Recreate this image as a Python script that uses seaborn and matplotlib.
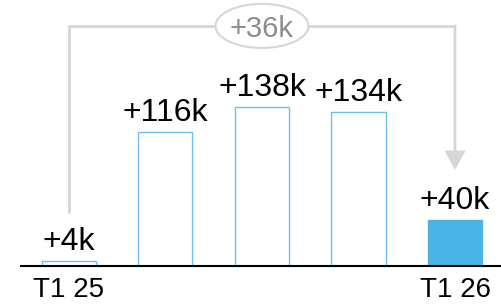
import numpy as np
import pandas as pd
import seaborn as sns
import matplotlib.pyplot as plt
from matplotlib.patches import Ellipse

# data
periods = ["T1 25", "P2", "P3", "P4", "T1 26"]
tick_labels = ["T1 25", "", "", "", "T1 26"]
values = [4, 116, 138, 134, 40]
value_labels = ["+4k", "+116k", "+138k", "+134k", "+40k"]
delta_label = "+36k"

edge_blue = "#6cc0ea"
fill_blue = "#4bb4e6"
grey_line = "#d6d6d6"

sns.set_theme(style="white")
plt.rcParams['font.family'] = ['Liberation Sans', 'DejaVu Sans']

fig = plt.figure(figsize=(5.02, 3.04), dpi=100)
ax = fig.add_axes([21 / 502, 38 / 304, 481 / 502, 266 / 304])

df = pd.DataFrame({"period": periods, "value": values})
sns.barplot(data=df, x="period", y="value", order=periods, color="white",
            saturation=1, width=0.56, edgecolor=edge_blue, linewidth=1, ax=ax)

# last bar is filled
last = ax.patches[len(values) - 1]
last.set_facecolor(fill_blue)
last.set_edgecolor(fill_blue)

ax.set_xlim(-0.497, 4.487)
ax.set_ylim(0, 231)

# value labels above bars
for i, (v, lab) in enumerate(zip(values, value_labels)):
    ax.annotate(lab, (i, v), xytext=(0, 8), textcoords="offset points",
                ha="center", va="baseline", fontsize=23, color="black")

# bracket from first to last bar
y_top = 208.5
ax.plot([0, 0, 4], [46, y_top, y_top], color=grey_line, lw=2,
        solid_capstyle="butt", solid_joinstyle="miter", clip_on=False, zorder=1)
ax.annotate("", xy=(4, 83.5), xytext=(4, y_top),
            arrowprops=dict(arrowstyle="-|>,head_length=1.08,head_width=0.6",
                            color=grey_line, lw=2, shrinkA=0, shrinkB=0,
                            mutation_scale=10, joinstyle="miter"),
            zorder=1)

ell = Ellipse((2, y_top), width=93 / 96.5, height=44 / 1.15,
              facecolor="white", edgecolor=grey_line, lw=1.5, zorder=3, clip_on=False)
ax.add_patch(ell)
ax.text(2, 199, delta_label, ha="center", va="baseline", fontsize=21,
        color="#8c8c8c", zorder=4)

ax.set_xticks(range(len(periods)))
ax.set_xticklabels(tick_labels)
ax.set_xlabel("")
ax.set_ylabel("")
ax.set_yticks([])
ax.tick_params(axis="x", length=0, pad=8, labelsize=20, labelcolor="black")
for s in ["top", "left", "right"]:
    ax.spines[s].set_visible(False)
ax.spines["bottom"].set_color("black")
ax.spines["bottom"].set_linewidth(1.5)

fig.savefig("out.png", dpi=100)
